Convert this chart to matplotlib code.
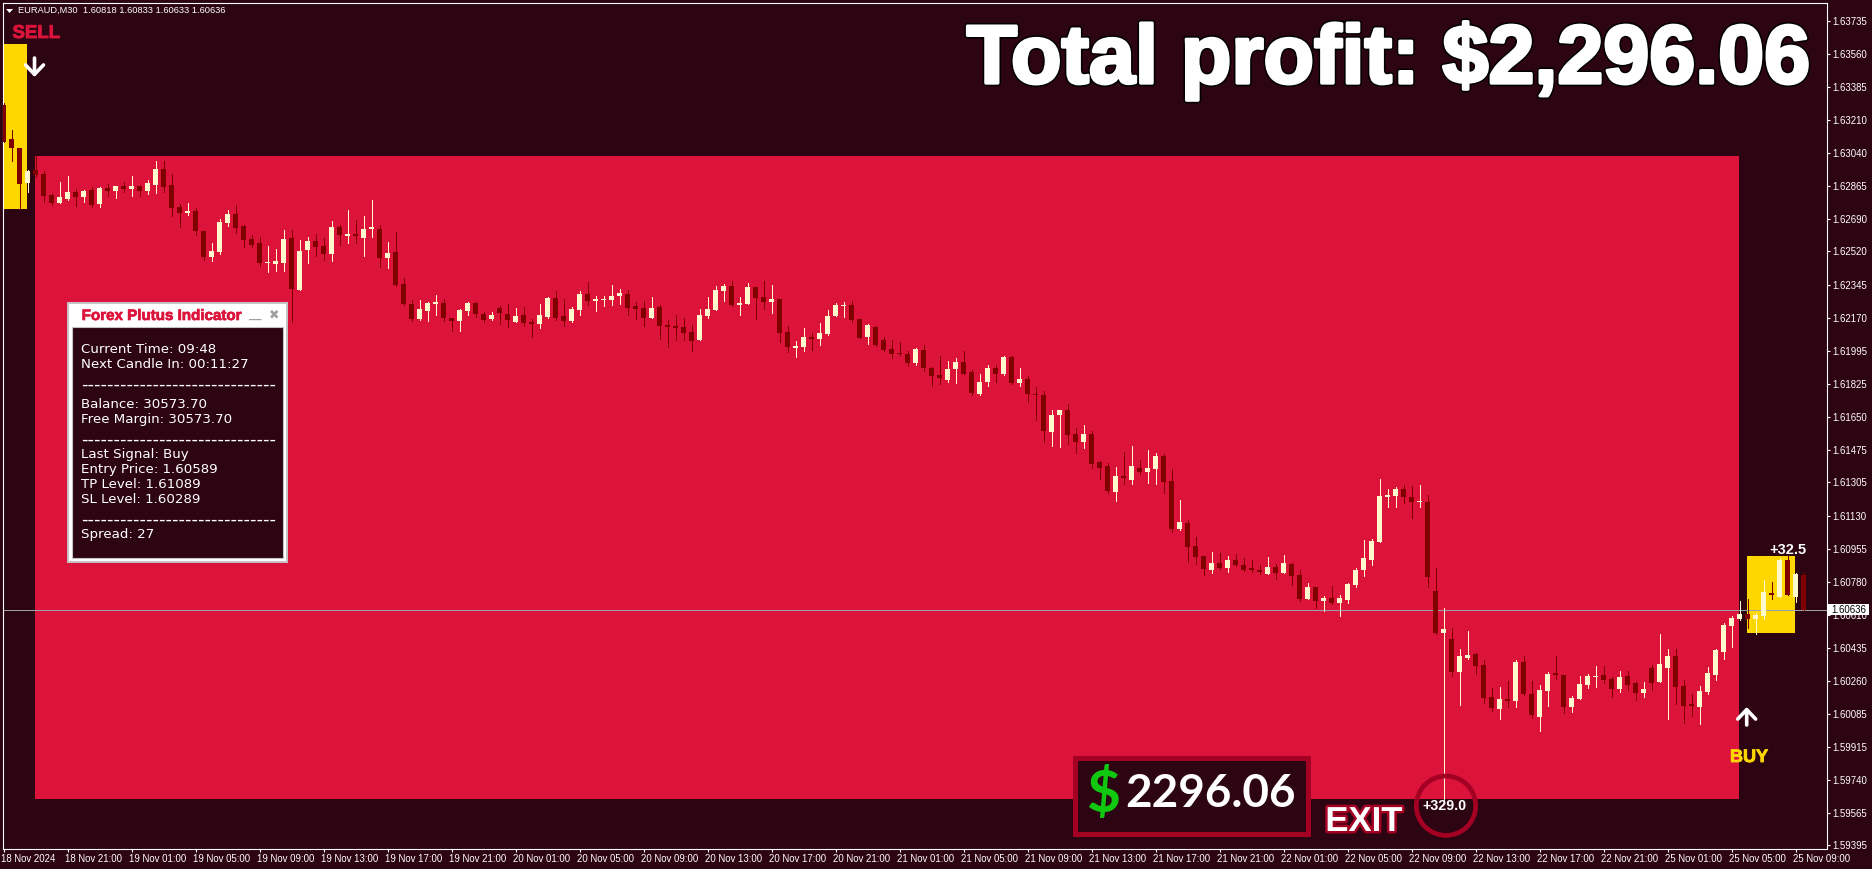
import numpy as np
import matplotlib
matplotlib.use('Agg')
import matplotlib.pyplot as plt
import matplotlib.patheffects as pe
from matplotlib.patches import Rectangle, Circle, Polygon
from matplotlib.transforms import ScaledTranslation

# prices in points, 1 point = 0.00001
opens = [163291,163112,163064,162880,162949,162928,162817,162775,162796,162833,
         162807,162843,162770,162854,162838,162864,162849,162864,162838,162870,
         162954,162870,162754,162722,162733,162628,162491,162517,162670,162717,
         162654,162586,162565,162459,162454,162459,162591,162317,162528,162575,
         162549,162507,162649,162601,162612,162591,162638,162638,162486,162517,
         162349,162244,162165,162207,162244,162249,162170,162154,162207,162249,
         162191,162165,162223,162191,162149,162186,162149,162138,162175,162275,
         162181,162154,162212,162296,162259,162265,162265,162286,162296,162233,
         162223,162170,162228,162133,162128,162123,162096,162054,162181,162212,
         162312,162338,162238,162244,162333,162281,162254,162270,162096,162012,
         162017,162070,162060,162086,162181,162233,162238,162165,162070,162123,
         162054,162007,161986,161980,161933,162001,161907,161870,161844,161901,
         161938,161886,161770,161833,161907,161875,161965,161828,161849,161770,
         161765,161570,161659,161686,161559,161517,161559,161412,161391,161254,
         161338,161317,161381,161360,161375,161444,161312,161060,161091,160970,
         160918,160844,160881,160854,160897,160870,160854,160844,160823,160860,
         160828,160875,160818,160691,160755,160681,160697,160670,160686,160765,
         160844,160897,160991,161229,161234,161271,161229,161202,161202,160734,
         160513,160481,160308,160382,160403,160345,160176,160113,160166,160155,
         160360,160192,160071,160208,160303,160292,160124,160166,160239,160282,
         160292,160271,160218,160287,160250,160197,160329,160255,160329,160392,
         160234,160140,160124,160203,160292,160413,160550,160587,160613,160587,
         160602,160723,160702,160897,160702,160818]
highs = [163299,163159,163064,162949,163022,162942,162821,162885,162917,162849,
         162843,162859,162859,162875,162864,162885,162917,162864,162896,162996,
         162996,162928,162770,162775,162749,162628,162565,162691,162738,162764,
         162659,162607,162596,162549,162533,162633,162633,162580,162596,162612,
         162591,162680,162659,162738,162686,162707,162791,162659,162570,162622,
         162380,162265,162265,162254,162291,162270,162170,162217,162254,162254,
         162202,162202,162233,162244,162223,162228,162165,162244,162281,162312,
         162270,162228,162312,162359,162286,162286,162344,162323,162317,162254,
         162259,162281,162238,162160,162186,162170,162133,162217,162281,162338,
         162349,162365,162281,162354,162333,162365,162344,162270,162128,162049,
         162117,162091,162144,162212,162249,162254,162259,162165,162138,162128,
         162070,162054,162043,161996,162012,162028,161912,161970,161944,161959,
         161996,161896,161875,161922,161922,161970,161970,161907,161865,161807,
         161786,161686,161686,161717,161591,161607,161575,161417,161407,161386,
         161465,161496,161423,161475,161459,161454,161375,161212,161107,161018,
         160918,160939,160933,160918,160928,160907,160897,160870,160912,160875,
         160923,160881,160844,160776,160755,160707,160760,160712,160776,160854,
         161002,161007,161323,161271,161281,161292,161286,161292,161239,160855,
         160645,160539,160429,160524,160408,160371,160224,160229,160261,160371,
         160392,160261,160239,160308,160392,160292,160182,160287,160297,160339,
         160339,160282,160313,160313,160255,160255,160345,160508,160429,160429,
         160266,160192,160234,160334,160429,160566,160602,160681,160692,160618,
         160792,160781,160908,160918,160829,160833]
lows = [163098,162998,162743,162833,162914,162780,162764,162775,162791,162759,
        162780,162754,162754,162812,162801,162833,162812,162812,162822,162828,
        162833,162707,162649,162712,162607,162475,162470,162507,162654,162617,
        162544,162544,162444,162412,162417,162417,162149,162317,162459,162496,
        162475,162470,162554,162565,162565,162496,162596,162438,162433,162338,
        162238,162154,162160,162154,162186,162154,162102,162102,162186,162175,
        162149,162160,162138,162123,162149,162128,162070,162117,162170,162160,
        162128,162149,162186,162238,162207,162233,162238,162244,162186,162165,
        162128,162170,162060,162017,162054,162054,161998,162054,162170,162212,
        162259,162233,162186,162244,162165,162217,162196,162044,161991,161965,
        161996,162002,162028,162081,162181,162175,162149,162065,162033,162023,
        161996,161959,161975,161917,161922,161891,161812,161822,161833,161828,
        161875,161765,161765,161812,161833,161870,161822,161812,161728,161633,
        161517,161496,161491,161507,161459,161486,161381,161323,161249,161207,
        161296,161296,161349,161302,161296,161249,161044,161054,160886,160875,
        160818,160828,160849,160833,160865,160839,160833,160823,160823,160797,
        160828,160765,160681,160691,160644,160628,160665,160602,160670,160755,
        160812,160870,160991,161176,161176,161197,161118,161176,160755,160508,
        159634,160287,160134,160376,160297,160145,160103,160061,160124,160124,
        160187,160066,159997,160129,160271,160092,160097,160166,160224,160229,
        160250,160176,160203,160213,160161,160176,160213,160255,160061,160140,
        160040,160076,160034,160192,160266,160376,160439,160581,160539,160508,
        160587,160692,160702,160713,160676,160633]
closes = [163098,163064,162875,162943,162921,162812,162775,162807,162833,162807,
          162838,162764,162854,162838,162864,162849,162864,162838,162880,162954,
          162859,162749,162722,162733,162628,162491,162522,162675,162717,162643,
          162580,162554,162459,162465,162470,162586,162323,162522,162575,162544,
          162507,162649,162607,162612,162601,162638,162649,162486,162512,162344,
          162244,162165,162217,162249,162254,162170,162154,162212,162249,162191,
          162160,162186,162196,162160,162181,162144,162138,162186,162275,162170,
          162154,162217,162296,162259,162270,162270,162286,162302,162223,162217,
          162170,162223,162128,162123,162117,162091,162049,162186,162217,162317,
          162338,162238,162249,162333,162275,162254,162270,162091,162017,162023,
          162070,162060,162091,162181,162238,162238,162160,162065,162133,162028,
          162002,161980,161980,161933,162007,161907,161865,161854,161901,161938,
          161875,161775,161833,161907,161875,161965,161828,161849,161770,161765,
          161575,161659,161686,161554,161517,161559,161402,161381,161260,161338,
          161328,161391,161360,161381,161444,161307,161060,161096,160965,160912,
          160849,160881,160854,160897,160870,160844,160844,160833,160860,160828,
          160881,160812,160691,160755,160681,160697,160670,160697,160770,160844,
          160907,160997,161233,161239,161271,161229,161202,161208,160808,160513,
          160534,160308,160392,160397,160339,160171,160118,160166,160155,160360,
          160192,160082,160213,160297,160292,160124,160171,160245,160287,160287,
          160266,160218,160282,160239,160197,160218,160250,160350,160392,160229,
          160129,160129,160208,160303,160424,160555,160592,160613,160587,160608,
          160729,160713,160897,160713,160823,160636]

price_ticks = [1.63735, 1.63560, 1.63385, 1.63210, 1.63040, 1.62865, 1.62690, 1.62520, 1.62345,
               1.62170, 1.61995, 1.61825, 1.61650, 1.61475, 1.61305, 1.61130, 1.60955, 1.60780,
               1.60610, 1.60435, 1.60260, 1.60085, 1.59915, 1.59740, 1.59565, 1.59395]
time_labels = ['18 Nov 2024', '18 Nov 21:00',
               '19 Nov 01:00', '19 Nov 05:00', '19 Nov 09:00', '19 Nov 13:00', '19 Nov 17:00', '19 Nov 21:00',
               '20 Nov 01:00', '20 Nov 05:00', '20 Nov 09:00', '20 Nov 13:00', '20 Nov 17:00', '20 Nov 21:00',
               '21 Nov 01:00', '21 Nov 05:00', '21 Nov 09:00', '21 Nov 13:00', '21 Nov 17:00', '21 Nov 21:00',
               '22 Nov 01:00', '22 Nov 05:00', '22 Nov 09:00', '22 Nov 13:00', '22 Nov 17:00', '22 Nov 21:00',
               '25 Nov 01:00', '25 Nov 05:00', '25 Nov 09:00']
last_price = 1.60636
# boxes drawn on the chart: first candle, last candle, top price, bottom price
sell_zone = [-1, 3, 1.63612, 1.62743]
profit_zone = [4, 217, 1.63022, 1.59639]
buy_zone = [218, 224, 1.60918, 1.60513]
panel_lines = [('Current Time: 09:48', 349.3), ('Next Candle In: 00:11:27', 364.3),
               ('Balance: 30573.70', 404.3), ('Free Margin: 30573.70', 419.3),
               ('Last Signal: Buy', 454.7), ('Entry Price: 1.60589', 469.7),
               ('TP Level: 1.61089', 484.7), ('SL Level: 1.60289', 499.7),
               ('Spread: 27', 534.7)]

BG = '#2d0411'
RED = '#dc143c'
GOLD = '#ffd700'
DARK = '#800000'
LIGHT = '#fffacd'
EDGE = '#a30023'
W, H = 1872, 869
SANS = 'Liberation Sans'

o = np.array(opens) / 1e5
h = np.array(highs) / 1e5
l = np.array(lows) / 1e5
c = np.array(closes) / 1e5
x = np.arange(len(o))
colors = [DARK if a > b else LIGHT for a, b in zip(o, c)]

fig = plt.figure(figsize=(W / 100, H / 100), dpi=100, facecolor=BG)
ax = fig.add_axes([2.5 / W, 1 - 848.5 / H, 1824 / W, 846 / H], facecolor=BG)
ax.set_xlim(-0.125, 227.875)
ax.set_ylim(1.59379, 1.63830)

for zone, col in ((sell_zone, GOLD), (profit_zone, RED), (buy_zone, GOLD)):
    # small shift so the box edges land on the same pixel column as the candles
    ax.add_patch(Rectangle((zone[0] - 0.1, zone[3]), zone[1] - zone[0], zone[2] - zone[3], color=col, lw=0,
                           antialiased=False, zorder=1))

ax.axhline(last_price, color='#9aa0a8', lw=0.72, zorder=2)
ax.vlines(x, l, h, colors=colors, lw=0.72, antialiased=False, zorder=3)
ax.bar(x, np.abs(c - o), bottom=np.minimum(o, c), width=5 / 8, color=colors, lw=0, antialiased=False, zorder=3)

for s in ax.spines.values():
    s.set_color('white')
    s.set_linewidth(0.8)
ax.yaxis.tick_right()
ax.set_yticks(price_ticks, ['%.5f' % p for p in price_ticks])
ax.set_xticks(x[::8], time_labels)
ax.tick_params(colors='white', length=2.4, width=0.8, pad=1.6, labelsize=6.9)
for t in ax.get_xticklabels() + ax.get_yticklabels():
    t.set_family(SANS)
for t in ax.get_xticklabels():
    t.set_ha('left')
    t.set_transform(t.get_transform() + ScaledTranslation(-1.5 / 72, 0, fig.dpi_scale_trans))

# overlay in image pixels for everything that sits on top of the chart
ov = fig.add_axes([0, 0, 1, 1])
ov.set_xlim(0, W)
ov.set_ylim(H, 0)
ov.set_axis_off()
ov.patch.set_visible(False)

ov.add_patch(Polygon([(6, 9), (13, 9), (9.5, 13)], color='white', lw=0))
ov.text(18.3, 10.7, 'EURAUD,M30  1.60818 1.60833 1.60633 1.60636', color='white', fontsize=6.7,
        family=SANS, va='center')

bold = [pe.withStroke(linewidth=0.6, foreground=RED)]
ov.text(12.5, 38, 'SELL', color=RED, fontsize=13.4, family=SANS, weight='bold', va='baseline', path_effects=bold)
ov.text(1730, 762, 'BUY', color=GOLD, fontsize=13, family=SANS, weight='bold', va='baseline',
        path_effects=[pe.withStroke(linewidth=0.6, foreground=GOLD)])
arrow = dict(arrowstyle='->,head_length=0.4,head_width=0.38', color='white', lw=2.6, shrinkA=0, shrinkB=0,
             mutation_scale=17)
ov.annotate('', xy=(34.5, 77), xytext=(34.5, 58), arrowprops=arrow)
ov.annotate('', xy=(1746.7, 707), xytext=(1746.7, 725), arrowprops=arrow)

title = ov.text(1810, 83, 'Total profit: $2,296.06', color='white', fontsize=59.5, family=SANS, weight='bold',
                ha='right', va='baseline',
                path_effects=[pe.withStroke(linewidth=4.6, foreground='black'),
                              pe.withStroke(linewidth=2.4, foreground='white')])
ov.text(1787.5, 554.5, '+32.5', color='white', fontsize=10.5, family=SANS, weight='bold', ha='center',
        va='baseline')

# last price tag
ov.add_patch(Rectangle((1827.7, 604), 41.5, 11, color='white', lw=0))
ov.text(1848.5, 609.7, '%.5f' % last_price, color='black', fontsize=6.9, family=SANS, ha='center', va='center')

# info panel
ov.add_patch(Rectangle((67.5, 302.5), 219, 259, facecolor='white', edgecolor='#c4c4c4', lw=1.4))
ov.add_patch(Rectangle((71.5, 326.5), 211, 231, facecolor=BG, edgecolor='#c4c4c4', lw=0.8))
ov.text(81.7, 320, 'Forex Plutus Indicator', color=RED, fontsize=10.9, family=SANS, weight='bold', va='baseline',
        path_effects=[pe.withStroke(linewidth=0.5, foreground=RED)])
ov.text(255, 319.5, '\u2014', color='#a0a0a0', fontsize=9, family=SANS, weight='bold', ha='center', va='center')
ov.text(274, 315, '\u2716', color='#a0a0a0', fontsize=9, family='DejaVu Sans', ha='center', va='center')
for txt, yy in panel_lines:
    ov.text(81, yy, txt, color='white', fontsize=9.6, family='DejaVu Sans', va='center')
for yy in (384.5, 439.5, 519.5):
    ov.text(81, yy, '-' * 30, color='white', fontsize=13.1, family='DejaVu Sans', va='center')

# profit box, exit label and circle
ov.add_patch(Rectangle((1074.5, 757.5), 233, 76, facecolor=BG, edgecolor=EDGE, lw=3.6))
ov.text(1104, 795, '$', color='#10c810', fontsize=42, family='Lato', weight='bold', ha='center', va='center')
ov.text(1125, 807, '2296.06', color='white', fontsize=33, family='Lato', weight='bold', va='baseline')
ov.text(1364, 831, 'EXIT', color='white', fontsize=25, family=SANS, weight='bold', ha='center', va='baseline',
        path_effects=[pe.withStroke(linewidth=3.6, foreground=EDGE)])
ov.add_patch(Circle((1446, 805.7), 29.7, facecolor='none', edgecolor=EDGE, lw=3.4))
ov.text(1444.5, 806, '+329.0', color='white', fontsize=10.3, family=SANS, weight='bold', ha='center', va='center')

fig.savefig('out.png', dpi=100, facecolor=BG)
